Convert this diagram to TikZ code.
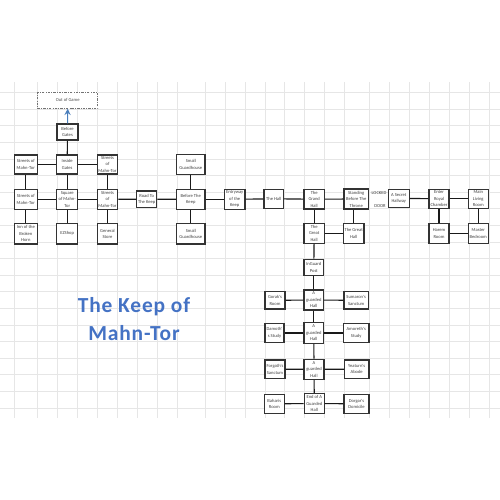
\documentclass[tikz,border=0pt]{standalone}
\usepackage{fontspec}
\newfontfamily\cellfont{Carlito}
\newfontfamily\titlefont[LetterSpace=4]{Carlito}
\usetikzlibrary{shapes.geometric, arrows, positioning, calc}
\definecolor{titleblue}{RGB}{68,114,196}
\definecolor{arrowblue}{RGB}{74,126,187}
\definecolor{gridgray}{RGB}{230,230,230}
\tikzstyle{room} = [rectangle, minimum width=4mm, minimum height=4mm, inner sep=0pt, align=center, draw=black!80, line width=0.65pt, fill=white, text=black!75, font=\cellfont\fontsize{2.6}{3.7}\selectfont]
\tikzstyle{offmap} = [rectangle, minimum width=12mm, minimum height=3.2mm, inner sep=0pt, align=center, draw=black!55, line width=0.5pt, dash pattern=on 1.4pt off 0.7pt on 0.4pt off 0.7pt, fill=white, text=black!70, font=\cellfont\fontsize{2.6}{3.7}\selectfont]
\tikzstyle{note} = [inner sep=0pt, text=black!75, font=\cellfont\fontsize{2.6}{3.7}\selectfont]
\tikzstyle{link} = [line width=0.65pt, black!90]
\tikzstyle{arrow} = [line width=0.6pt, arrowblue, ->, >=stealth]

\begin{document}
\begin{tikzpicture}[x=0.2mm, y=-0.2mm]
\useasboundingbox (0,0) rectangle (500,500);

% Sheet grid
\foreach \gx in {14,37.5,57.5,77.5,97.5,117.5,137.5,157.5,177.5,205.5,225.5,245.5,265,284.5,304.5,324.5,344.5,369,389,409,429,449,469,489}
  \draw [gridgray, line width=0.35pt] (\gx,82) -- (\gx,418);
\foreach \gy in {0,...,19}
  \draw [gridgray, line width=0.35pt] (0,92.5+16.6*\gy) -- (500,92.5+16.6*\gy);

% Title
\node (title) [text=titleblue, font=\titlefont\bfseries\fontsize{12.2}{15.9}\selectfont, align=center] at (134,319) {The Keep of\\Mahn-Tor};

% Town
\node (outgame) [offmap, minimum width=12mm, minimum height=3.2mm] at (67.7,100.3) {Out of Game};
\node (beforegates) [room, minimum width=4.2mm, minimum height=3.2mm] at (67.5,132) {Before\\Gates};
\node (streets_nw) [room, minimum width=4.6mm, minimum height=3.8mm] at (25.8,164.5) {Streets of\\Mahn-Tor};
\node (insidegates) [room, minimum width=4.2mm, minimum height=3.8mm] at (67.2,164.5) {Inside\\Gates};
\node (streets_ne) [room, minimum width=4.1mm, minimum height=3.8mm] at (107.5,164.5) {Streets\\of\\Mahn-Tor};
\node (streets_w) [room, minimum width=4.6mm, minimum height=4mm] at (25.8,199.3) {Streets of\\Mahn-Tor};
\node (square) [room, minimum width=4.2mm, minimum height=4mm] at (67.2,199.3) {Square\\of Mahn-\\Tor};
\node (streets_e) [room, minimum width=4.1mm, minimum height=4mm] at (107.5,199.3) {Streets\\of\\Mahn-Tor};
\node (inn) [room, minimum width=4.6mm, minimum height=4.1mm] at (25.8,233.7) {Inn of the\\Broken\\Horn};
\node (shop) [room, minimum width=4.2mm, minimum height=4.1mm] at (67.2,233.7) {EZShop};
\node (store) [room, minimum width=4.1mm, minimum height=4.1mm] at (107.5,233.7) {General\\Store};

% Road and gate of the keep
\node (road) [room, minimum width=4mm, minimum height=3.3mm] at (146.7,199.2) {Road To\\The Keep};
\node (guard_n) [room, minimum width=5.7mm, minimum height=3.9mm] at (190.8,164.6) {Small\\Guardhouse};
\node (beforekeep) [room, minimum width=5.7mm, minimum height=4mm] at (190.8,199.3) {Before The\\Keep};
\node (guard_s) [room, minimum width=5.7mm, minimum height=4.1mm] at (190.8,233.7) {Small\\Guardhouse};
\node (entryway) [room, minimum width=4.1mm, minimum height=4mm] at (234.7,199.3) {Entryway\\of the\\Keep};

% Halls
\node (hall) [room, minimum width=3.9mm, minimum height=3.8mm] at (273.7,198.8) {The Hall};
\node (grandhall) [room, minimum width=4.1mm, minimum height=3.9mm] at (314.2,199.2) {The\\Grand\\Hall};
\node (throne) [room, minimum width=4.9mm, minimum height=4mm] at (356.2,199) {Standing\\Before The\\Throne};
\node (greathall_w) [room, minimum width=4.1mm, minimum height=4mm] at (314.2,233.3) {The\\Great\\Hall};
\node (greathall_e) [room, minimum width=4.1mm, minimum height=4mm] at (353.7,233.3) {The Great\\Hall};
\node (locked) [note] at (379,193) {LOCKED};
\node (door) [note] at (380,206) {DOOR};

% Royal rooms
\node (secret) [room, minimum width=4.2mm, minimum height=3.6mm] at (398.8,198.3) {A Secret\\Hallway};
\node (enter) [room, minimum width=4mm, minimum height=3.8mm] at (439,198.8) {Enter\\Royal\\Chamber};
\node (living) [room, minimum width=4mm, minimum height=3.8mm] at (478.3,198.8) {Main\\Living\\Room};
\node (harem) [room, minimum width=4mm, minimum height=4mm] at (439,233.3) {Harem\\Room};
\node (master) [room, minimum width=4mm, minimum height=4mm] at (478.3,233.3) {Master\\Bedroom};

% Guarded halls
\node (inguard) [room, minimum width=3.9mm, minimum height=3.3mm] at (313.8,267.5) {InGuard\\Post};
\node (gorak) [room, minimum width=4mm, minimum height=3.5mm] at (275,300.3) {Gorak's\\Room};
\node (guarded_a) [room, minimum width=3.9mm, minimum height=4mm] at (313.8,300) {A\\guarded\\Hall};
\node (sumaron) [room, minimum width=4.9mm, minimum height=3.5mm] at (356.2,300.3) {Sumaron's\\Sanctum};
\node (damoth) [room, minimum width=3.8mm, minimum height=3.9mm] at (274.5,333) {Damoth'\\s Study};
\node (guarded_b) [room, minimum width=3.9mm, minimum height=4.1mm] at (313.8,333) {A\\guarded\\Hall};
\node (amoreth) [room, minimum width=5.1mm, minimum height=3.9mm] at (356.2,333) {Amoreth's\\Study};
\node (forgath) [room, minimum width=4mm, minimum height=3.7mm] at (275,369.2) {Forgath's\\Sanctum};
\node (guarded_c) [room, minimum width=4mm, minimum height=4mm] at (314,369.3) {A\\guarded\\Hall};
\node (yeaturn) [room, minimum width=4.9mm, minimum height=3.7mm] at (356.7,369.2) {Yeaturn's\\Abode};
\node (baharis) [room, minimum width=4mm, minimum height=3.8mm] at (274.3,403.8) {Baharis\\Room};
\node (endhall) [room, minimum width=4mm, minimum height=4mm] at (314.3,403.5) {End of A\\Guarded\\Hall};
\node (dorgar) [room, minimum width=5mm, minimum height=3.8mm] at (356.5,403.8) {Dorgar's\\Domicile};

% Connectors
\draw [arrow] (beforegates) -- (outgame);
\draw [link] (beforegates) -- (insidegates);
\draw [link] (streets_nw) -- (insidegates);
\draw [link] (insidegates) -- (streets_ne);
\draw [link] (streets_nw) -- (streets_w);
\draw [link] (insidegates) -- (square);
\draw [link] (streets_ne) -- (streets_e);
\draw [link] (streets_w) -- (square);
\draw [link] (square) -- (streets_e);
\draw [link] (streets_e) -- (road);
\draw [link] (streets_w) -- (inn);
\draw [link] (square) -- (shop);
\draw [link] (streets_e) -- (store);
\draw [link] (road) -- (beforekeep);
\draw [link] (guard_n) -- (beforekeep);
\draw [link] (beforekeep) -- (guard_s);
\draw [link] (beforekeep) -- (entryway);
\draw [link] (entryway) -- (hall);
\draw [link] (hall) -- (grandhall);
\draw [link] (grandhall) -- (throne);
\draw [link] (grandhall) -- (greathall_w);
\draw [link] (greathall_w) -- (greathall_e);
\draw [link] (greathall_e.north) -- (greathall_e.north |- throne.south);
\draw [link] (secret) -- (enter);
\draw [link] (enter) -- (living);
\draw [link] (enter) -- (harem);
\draw [link] (harem) -- (master);
\draw [link] (living) -- (master);
\draw [link] (greathall_w) -- (inguard);
\draw [link] (inguard) -- (guarded_a);
\draw [link] (guarded_a) -- (guarded_b);
\draw [link] (guarded_b) -- (guarded_c);
\draw [link] (guarded_c) -- (endhall);
\draw [link] (gorak) -- (guarded_a);
\draw [link] (guarded_a) -- (sumaron);
\draw [link] (damoth) -- (guarded_b);
\draw [link] (guarded_b) -- (amoreth);
\draw [link] (forgath) -- (guarded_c);
\draw [link] (guarded_c) -- (yeaturn);
\draw [link] (baharis) -- (endhall);
\draw [link] (endhall) -- (dorgar);

\end{tikzpicture}
\end{document}
